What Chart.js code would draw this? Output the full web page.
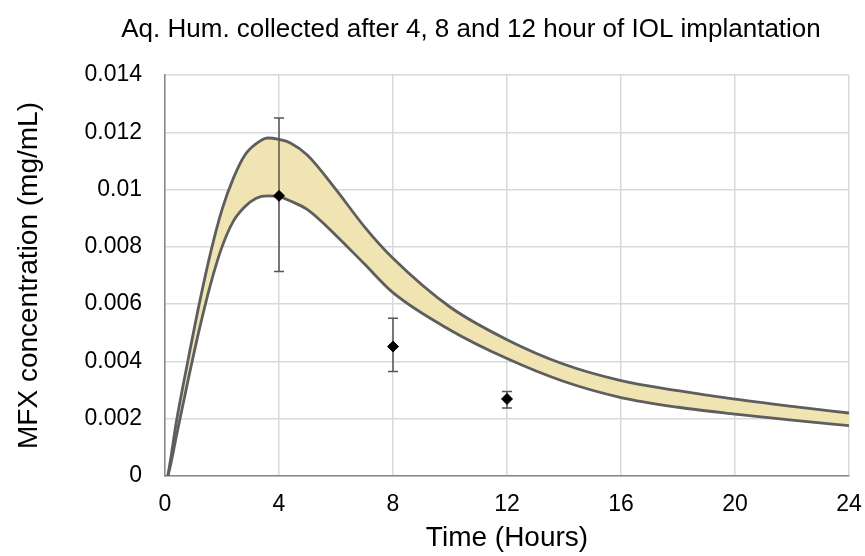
<!DOCTYPE html>
<html>
<head>
<meta charset="utf-8">
<script src="https://cdn.jsdelivr.net/npm/chart.js@4.4.0/dist/chart.umd.min.js"></script>
<style>
  body { margin: 0; background: #fff; }
  #wrap { width: 865px; height: 556px; }
</style>
</head>
<body>
<div id="wrap"><canvas id="chart" width="865" height="556"></canvas></div>
<script>
// model band (hours / mg/mL)
const hours = [0.1, 0.2, 0.4, 0.8, 1.2, 1.6, 2.0, 2.4, 2.8, 3.2, 3.6, 4.0, 4.4, 5.0, 6.0, 7.0, 8, 10, 12, 14, 16, 18, 20, 22, 24];
const upperBand = [0, 0.0006, 0.0019, 0.0040, 0.0060, 0.0078, 0.0093, 0.0104, 0.0112, 0.0116, 0.0118, 0.01175, 0.01163, 0.0112, 0.0100, 0.0087, 0.0076, 0.0059, 0.00476, 0.0039, 0.00333, 0.00298, 0.00268, 0.00243, 0.0022];
const lowerBand = [0, 0.0004, 0.0014, 0.0033, 0.0051, 0.0067, 0.0080, 0.0089, 0.0094, 0.0097, 0.00978, 0.00975, 0.0096, 0.0093, 0.0084, 0.0074, 0.0064, 0.0051, 0.0041, 0.0033, 0.00274, 0.0024, 0.00216, 0.00195, 0.00176];

// measured aqueous humour samples
const sampleHours = [4, 8, 12];
const sampleMean = [0.00978, 0.00452, 0.00269];
const sampleLow = [0.00714, 0.00365, 0.00237];
const sampleHigh = [0.0125, 0.00551, 0.00295];

const xTicks = [0, 4, 8, 12, 16, 20, 24];
const chartTitle = 'Aq. Hum. collected after 4, 8 and 12 hour of IOL implantation';

const toPoints = (xs, ys) => xs.map((x, i) => ({ x: x, y: ys[i] }));

// error bars under the diamonds
const errorBars = {
  id: 'errorBars',
  beforeDatasetDraw(chart, args) {
    if (args.index !== 0) return;
    const ctx = chart.ctx;
    const x = chart.scales.x, y = chart.scales.y;
    ctx.save();
    ctx.strokeStyle = '#555';
    ctx.lineWidth = 1.5;
    sampleHours.forEach((h, i) => {
      const px = x.getPixelForValue(h);
      const top = y.getPixelForValue(sampleHigh[i]);
      const bot = y.getPixelForValue(sampleLow[i]);
      ctx.beginPath();
      ctx.moveTo(px, top); ctx.lineTo(px, bot);
      ctx.moveTo(px - 5, top); ctx.lineTo(px + 5, top);
      ctx.moveTo(px - 5, bot); ctx.lineTo(px + 5, bot);
      ctx.stroke();
    });
    ctx.restore();
  }
};

// title sits a bit left of the plot centre in the original
const topTitle = {
  id: 'topTitle',
  afterDraw(chart) {
    const ctx = chart.ctx;
    ctx.save();
    ctx.font = '26px "Liberation Sans", Arial, sans-serif';
    ctx.fillStyle = '#000';
    ctx.textAlign = 'center';
    ctx.textBaseline = 'middle';
    ctx.fillText(chartTitle, 471, 30);
    ctx.restore();
  }
};

Chart.defaults.font.family = '"Liberation Sans", Arial, sans-serif';
Chart.defaults.color = '#000';

new Chart(document.getElementById('chart').getContext('2d'), {
  type: 'scatter',
  data: {
    datasets: [{
      label: 'Measured',
      data: toPoints(sampleHours, sampleMean),
      pointStyle: 'rectRot',
      pointRadius: 5.5,
      backgroundColor: '#000',
      borderColor: '#000',
      showLine: false
    },
    {
      label: 'Upper',
      data: toPoints(hours, upperBand),
      showLine: true,
      borderColor: '#5e5e5e',
      borderWidth: 2.8,
      pointRadius: 0,
      cubicInterpolationMode: 'monotone',
      fill: '+1',
      backgroundColor: 'rgb(240, 228, 178)'
    },
    {
      label: 'Lower',
      data: toPoints(hours, lowerBand),
      showLine: true,
      borderColor: '#5e5e5e',
      borderWidth: 2.8,
      pointRadius: 0,
      cubicInterpolationMode: 'monotone',
      fill: false
    }]
  },
  options: {
    responsive: false,
    animation: false,
    layout: { padding: { left: 0, right: 16, top: 75, bottom: 0 } },
    plugins: {
      legend: { display: false },
      tooltip: { enabled: false },
      filler: { drawTime: 'beforeDatasetsDraw' },
      title: { display: false }
    },
    scales: {
      x: {
        type: 'linear',
        min: 0,
        max: 24,
        afterBuildTicks: axis => { axis.ticks = xTicks.map(v => ({ value: v })); },
        afterFit: axis => { axis.height = 80; axis.paddingLeft = 0; axis.paddingRight = 0; },
        ticks: { font: { size: 23 }, padding: 15 },
        grid: { color: '#d9d9d9', lineWidth: 1.5, drawTicks: false },
        border: { color: '#888', width: 1.5 },
        title: { display: true, text: 'Time (Hours)', font: { size: 28 }, padding: { top: 0, bottom: 1 } }
      },
      y: {
        min: 0,
        max: 0.014,
        ticks: {
          stepSize: 0.002,
          font: { size: 23 },
          padding: 23,
          callback: v => String(+v.toFixed(3))
        },
        afterFit: axis => { axis.width = 165; axis.paddingTop = 0; axis.paddingBottom = 0; },
        grid: { color: '#d9d9d9', lineWidth: 1.5, drawTicks: false },
        border: { color: '#888', width: 1.5 },
        title: { display: true, text: 'MFX concentration (mg/mL)', font: { size: 28 }, padding: { top: 12, bottom: 0 } }
      }
    }
  },
  plugins: [errorBars, topTitle]
});
</script>
</body>
</html>
